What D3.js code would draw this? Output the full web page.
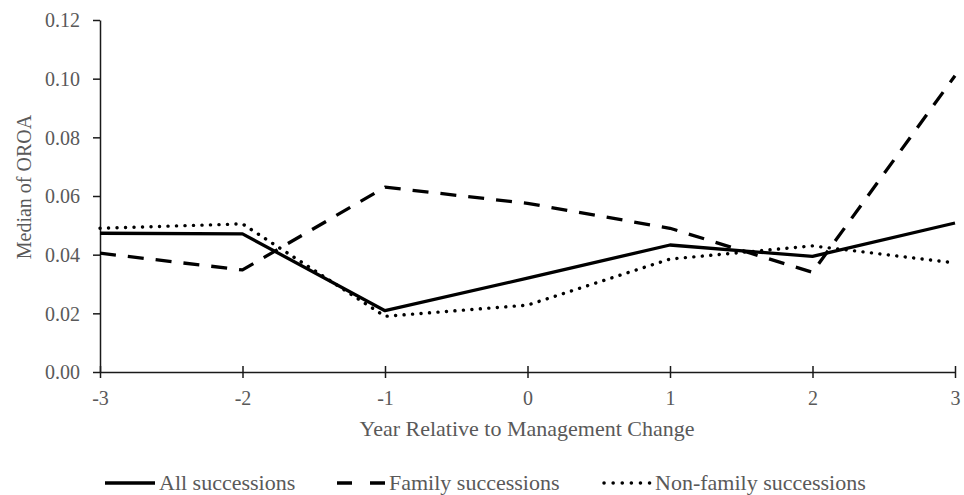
<!DOCTYPE html>
<html><head><meta charset="utf-8">
<script src="https://cdn.jsdelivr.net/npm/d3@7/dist/d3.min.js"></script>
<style>
html,body{margin:0;padding:0;background:#fff;}
text{font-family:"Liberation Serif","Times New Roman",serif;fill:#595959;}
</style></head>
<body>
<svg id="chart" width="964" height="495"></svg>
<script>
const years = [-3, -2, -1, 0, 1, 2, 3];
const allSucc = [0.0473, 0.0471, 0.0209, 0.0320, 0.0433, 0.0394, 0.0508];
const familySucc = [0.0405, 0.0348, 0.0630, 0.0575, 0.0490, 0.0340, 0.1010];
const nonFamilySucc = [0.0490, 0.0505, 0.0190, 0.0228, 0.0385, 0.0430, 0.0372];
const yTicks = [0, 0.02, 0.04, 0.06, 0.08, 0.10, 0.12];
const seriesNames = ["All successions", "Family successions", "Non-family successions"];

const svg = d3.select("#chart");
const x = d3.scaleLinear().domain([-3, 3]).range([100, 955]);
const y = d3.scaleLinear().domain([0, 0.12]).range([372, 20]);

const axisColor = "#1a1a1a";

// Y axis
const yAxis = svg.append("g").attr("transform", "translate(100,0)")
  .call(d3.axisLeft(y).tickValues(yTicks).tickFormat(d3.format(".2f")).tickSizeInner(7).tickSizeOuter(0).tickPadding(13));
yAxis.select(".domain").attr("stroke", axisColor).attr("stroke-width", 1.5);
yAxis.selectAll(".tick line").attr("stroke", axisColor).attr("stroke-width", 1.5).attr("x2", -7).attr("x1", 0);
yAxis.selectAll(".tick text").attr("font-size", 20).attr("fill", "#595959")
  .attr("font-family", "Liberation Serif, serif").attr("dy", "0.34em");

// X axis
const xAxis = svg.append("g").attr("transform", "translate(0,372)")
  .call(d3.axisBottom(x).tickValues(years).tickFormat(d3.format("d")).tickSizeInner(6).tickSizeOuter(0).tickPadding(13));
xAxis.select(".domain").attr("stroke", axisColor).attr("stroke-width", 1.5);
xAxis.selectAll(".tick line").attr("stroke", axisColor).attr("stroke-width", 1.5).attr("y1", -6).attr("y2", 6);
xAxis.selectAll(".tick text").attr("font-size", 20).attr("fill", "#595959")
  .attr("font-family", "Liberation Serif, serif").text(d => d < 0 ? "-" + Math.abs(d) : d);

// Axis titles
svg.append("text").attr("x", 527).attr("y", 436).attr("text-anchor", "middle")
  .attr("font-size", 22).text("Year Relative to Management Change");
svg.append("text").attr("transform", "translate(31,187) rotate(-90)").attr("text-anchor", "middle")
  .attr("font-size", 20).text("Median of OROA");

const line = d3.line().x((d, i) => x(years[i])).y(d => y(d));
const styles = [
  {data: allSucc, dash: null, cap: "butt", w: 3.3},
  {data: familySucc, dash: "16,12", cap: "butt", w: 3.3},
  {data: nonFamilySucc, dash: "0.1,8.4", cap: "round", w: 3.4}
];
styles.forEach(s => {
  const p = svg.append("path").datum(s.data).attr("d", line)
    .attr("fill", "none").attr("stroke", "#000").attr("stroke-width", s.w)
    .attr("stroke-linecap", s.cap).attr("stroke-linejoin", "round");
  if (s.dash) p.attr("stroke-dasharray", s.dash);
});

// Legend
const legY = 483;
const leg = [
  {x1: 105, x2: 155, tx: 159, dash: null, cap: "butt"},
  {x1: 337, x2: 385, tx: 389, dash: "15,18", cap: "butt"},
  {x1: 604, x2: 652, tx: 655, dash: "0.1,9", cap: "round"}
];
leg.forEach((l, i) => {
  const ln = svg.append("line").attr("x1", l.x1).attr("x2", l.x2).attr("y1", legY).attr("y2", legY)
    .attr("stroke", "#000").attr("stroke-width", 3.5).attr("stroke-linecap", l.cap);
  if (l.dash) ln.attr("stroke-dasharray", l.dash);
  svg.append("text").attr("x", l.tx).attr("y", legY + 7).attr("font-size", 22).text(seriesNames[i]);
});
</script>
</body></html>
